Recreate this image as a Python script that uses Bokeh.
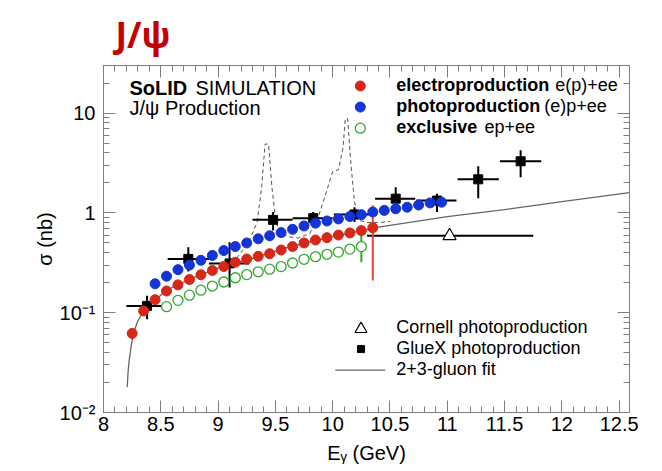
from bokeh.plotting import figure
from bokeh.models import (LinearAxis, LogAxis, SingleIntervalTicker, LogTicker,
                          CustomJSTickFormatter)
from bokeh.core.properties import value
from bokeh.embed import file_html
from bokeh.resources import INLINE

# ---------------- data ----------------
electro_E = [8.25, 8.35, 8.45, 8.55, 8.65, 8.75, 8.85, 8.95, 9.05, 9.15, 9.25,
             9.35, 9.45, 9.55, 9.65, 9.75, 9.85, 9.95, 10.05, 10.15, 10.25, 10.35]
electro_sigma = [0.062, 0.104, 0.135, 0.165, 0.19, 0.215, 0.24, 0.265, 0.29, 0.32, 0.345,
                 0.367, 0.39, 0.425, 0.46, 0.50, 0.535, 0.565, 0.60, 0.63, 0.665, 0.71]
electro_last_err = [0.21, 1.19]

photo_E = [8.45, 8.55, 8.65, 8.75, 8.85, 8.95, 9.05, 9.15, 9.25, 9.35, 9.45, 9.55, 9.65,
           9.75, 9.85, 9.95, 10.05, 10.15, 10.25, 10.35, 10.45, 10.55, 10.65, 10.75, 10.85, 10.95]
photo_sigma = [0.195, 0.232, 0.27, 0.30, 0.335, 0.375, 0.42, 0.46, 0.50, 0.55, 0.59, 0.635, 0.685,
               0.74, 0.79, 0.83, 0.87, 0.92, 0.96, 1.02, 1.06, 1.10, 1.14, 1.20, 1.26, 1.28]

excl_E = [8.55, 8.65, 8.75, 8.85, 8.95, 9.05, 9.15, 9.25, 9.35, 9.45, 9.55, 9.65,
          9.75, 9.85, 9.95, 10.05, 10.15, 10.25]
excl_sigma = [0.115, 0.133, 0.150, 0.168, 0.185, 0.203, 0.224, 0.241, 0.257, 0.273, 0.29, 0.315,
              0.343, 0.364, 0.385, 0.405, 0.434, 0.46]
excl_last_err = [0.32, 0.60]

gluex_E = [8.38, 8.74, 9.10, 9.48, 9.83, 10.19, 10.55, 10.91, 11.27, 11.64]
gluex_E_lo = [8.20, 8.56, 8.92, 9.30, 9.65, 10.01, 10.37, 10.73, 11.09, 11.46]
gluex_E_hi = [8.55, 8.92, 9.27, 9.65, 10.00, 10.37, 10.72, 11.08, 11.45, 11.82]
gluex_sigma = [0.117, 0.346, 0.312, 0.852, 0.885, 0.964, 1.39, 1.33, 2.17, 3.29]
gluex_sigma_lo = [0.086, 0.259, 0.179, 0.665, 0.78, 0.81, 1.06, 1.02, 1.40, 2.28]
gluex_sigma_hi = [0.148, 0.452, 0.507, 1.02, 1.02, 1.14, 1.81, 1.56, 2.93, 4.24]

cornell_E = [11.02]
cornell_E_lo = [10.30]
cornell_E_hi = [11.75]
cornell_sigma = [0.59]

fit_E = [8.207, 8.215, 8.225, 8.24, 8.26, 8.30, 8.35, 8.40, 8.50, 8.60, 8.80, 9.00,
         9.30, 9.60, 10.00, 10.40, 11.00, 11.50, 12.00, 12.59]
fit_sigma = [0.018, 0.026, 0.034, 0.045, 0.062, 0.083, 0.104, 0.12, 0.15, 0.18, 0.228, 0.28,
             0.35, 0.45, 0.58, 0.72, 0.92, 1.08, 1.30, 1.60]

model_E = [9.12, 9.20, 9.28, 9.34, 9.38, 9.41, 9.44, 9.47, 9.50, 9.53, 9.60, 9.70, 9.80,
           9.88, 9.95, 10.00, 10.05, 10.09, 10.11, 10.13, 10.16, 10.19, 10.22, 10.30, 10.40, 10.50]
model_sigma = [0.31, 0.40, 0.55, 0.80, 1.8, 4.9, 4.9, 1.8, 0.9, 0.66, 0.58, 0.56, 0.62,
               0.95, 1.7, 2.6, 2.7, 4.5, 8.8, 8.8, 3.0, 1.3, 0.85, 0.80, 0.80, 0.82]

x_ticks_interval = 0.5

# ---------------- styling ----------------
RED = "#D62718"
BLUE = "#1434D6"
GREEN = "#2EA82E"
AXIS_GRAY = "#7f7f7f"
FONT = "Liberation Sans"

p = figure(width=654, height=471, x_range=(8, 12.59), y_range=(0.01, 30),
           y_axis_type="log", output_backend="svg", toolbar_location=None,
           min_border_left=103, min_border_right=25, min_border_top=65, min_border_bottom=59,
           background_fill_color="white", border_fill_color="white")
p.xgrid.visible = False
p.ygrid.visible = False
p.outline_line_color = AXIS_GRAY

p.title.text = "J/\u03c8"
p.title.text_color = "#C40000"
p.title.text_font = "Noto Sans"
p.title.text_font_style = "bold"
p.title.text_font_size = "35px"
p.title.align = "left"
p.title.offset = 12
p.title.standoff = 16

xt = SingleIntervalTicker(interval=x_ticks_interval, num_minor_ticks=5)
p.xaxis.ticker = xt
p.yaxis.ticker = LogTicker(num_minor_ticks=10)
p.yaxis.formatter = CustomJSTickFormatter(code="""
    if (tick >= 1) { return tick.toFixed(0); }
    const e = Math.round(Math.log10(tick));
    const sup = {"-1": "\u207b\u00b9", "-2": "\u207b\u00b2", "-3": "\u207b\u00b3"};
    return "10" + sup[String(e)];
""")

for ax in (p.xaxis[0], p.yaxis[0]):
    ax.axis_line_color = AXIS_GRAY
    ax.major_tick_line_color = AXIS_GRAY
    ax.minor_tick_line_color = AXIS_GRAY
    ax.major_tick_in = 12
    ax.major_tick_out = 0
    ax.minor_tick_in = 6
    ax.minor_tick_out = 0
    ax.major_label_text_font = FONT
    ax.major_label_text_font_size = "20px"
    ax.major_label_text_color = "black"
    ax.axis_label_text_font = FONT
    ax.axis_label_text_font_size = "20px"
    ax.axis_label_text_font_style = "normal"
    ax.axis_label_text_color = "black"

p.xaxis.axis_label = "E\u1d67 (GeV)"
p.xaxis.major_label_standoff = 4
p.xaxis.axis_label_standoff = 8
p.yaxis.axis_label = "\u03c3 (nb)"
p.yaxis.major_label_standoff = 8
p.yaxis.axis_label_standoff = 1

top_ax = LinearAxis(ticker=SingleIntervalTicker(interval=x_ticks_interval, num_minor_ticks=5),
                    major_label_text_font_size="0px", major_label_text_alpha=0)
right_ax = LogAxis(ticker=LogTicker(num_minor_ticks=10),
                   major_label_text_font_size="0px", major_label_text_alpha=0)
for ax in (top_ax, right_ax):
    ax.axis_line_color = AXIS_GRAY
    ax.major_tick_line_color = AXIS_GRAY
    ax.minor_tick_line_color = AXIS_GRAY
    ax.major_tick_in = 12
    ax.major_tick_out = 0
    ax.minor_tick_in = 6
    ax.minor_tick_out = 0
    ax.major_label_standoff = 0
    ax.axis_label_standoff = 0
p.add_layout(top_ax, "above")
p.add_layout(right_ax, "right")

# ---------------- curves ----------------
p.line(model_E, model_sigma, line_color="#555555", line_width=1, line_dash="4 3")
p.line(fit_E, fit_sigma, line_color="#666666", line_width=1.3)

# GlueX points with error bars
p.segment(x0=gluex_E_lo, x1=gluex_E_hi, y0=gluex_sigma, y1=gluex_sigma,
          line_color="black", line_width=2)
p.segment(x0=gluex_E, x1=gluex_E, y0=gluex_sigma_lo, y1=gluex_sigma_hi,
          line_color="black", line_width=2)
p.scatter(gluex_E, gluex_sigma, marker="square", size=9, color="black")

# Cornell
p.segment(x0=cornell_E_lo, x1=cornell_E_hi, y0=cornell_sigma, y1=cornell_sigma,
          line_color="black", line_width=2)
p.scatter(cornell_E, cornell_sigma, marker="triangle", size=13, fill_color="white",
          line_color="black", line_width=1.2)

# SoLID projections
p.segment(x0=[excl_E[-1]], x1=[excl_E[-1]], y0=[excl_last_err[0]], y1=[excl_last_err[1]],
          line_color=GREEN, line_width=2)
p.scatter(excl_E, excl_sigma, marker="circle", size=10, fill_color="white",
          line_color=GREEN, line_width=1.3)
p.segment(x0=[electro_E[-1]], x1=[electro_E[-1]], y0=[electro_last_err[0]],
          y1=[electro_last_err[1]], line_color="#E8433A", line_width=2)
p.scatter(photo_E, photo_sigma, marker="circle", size=10, color=BLUE)
p.scatter(electro_E, electro_sigma, marker="circle", size=10, color=RED)

# ---------------- texts / legends ----------------
bold = dict(text_font=value(FONT), text_font_style="bold", text_baseline="middle",
            text_color="black")
norm = dict(text_font=value(FONT), text_font_style="normal", text_baseline="middle",
            text_color="black")

p.text(x=[8.227], y=[17.8], text=["SoLID"], text_font_size="20px", **bold)
p.text(x=[8.802], y=[17.8], text=["SIMULATION"], text_font_size="20px", **norm)
p.text(x=[8.227], y=[11.2], text=["J/\u03c8 Production"], text_font_size="20px", **norm)

p.scatter([10.241], [18.7], marker="circle", size=10, color=RED)
p.scatter([10.241], [11.5], marker="circle", size=10, color=BLUE)
p.scatter([10.241], [7.07], marker="circle", size=10, fill_color="white",
          line_color=GREEN, line_width=1.3)
p.text(x=[10.555, 10.555, 10.555], y=[18.97, 11.68, 7.23],
       text=["electroproduction", "photoproduction", "exclusive"], text_font_size="18px", **bold)
p.text(x=[11.942, 11.846, 11.325], y=[18.97, 11.68, 7.23],
       text=["e(p)+ee", "(e)p+ee", "ep+ee"], text_font_size="18px", **norm)

p.scatter([10.247], [0.0686], marker="triangle", size=12, fill_color="white",
          line_color="black", line_width=1.2)
p.scatter([10.247], [0.0432], marker="square", size=7, color="black")
p.line([10.023, 10.459], [0.0266, 0.0266], line_color="#666666", line_width=1.3)
p.text(x=[10.555, 10.555, 10.555], y=[0.0723, 0.0442, 0.0272],
       text=["Cornell photoproduction", "GlueX photoproduction", "2+3-gluon fit"],
       text_font_size="18px", **norm)

open("out.html", "w").write(file_html(p, INLINE))
